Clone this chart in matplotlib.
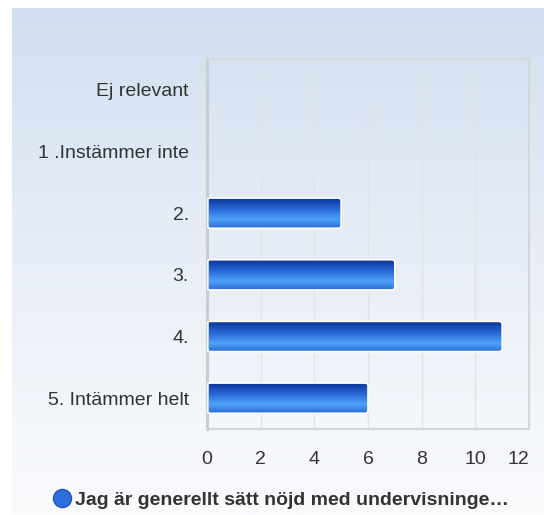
import numpy as np
import matplotlib
matplotlib.use("Agg")
import matplotlib.pyplot as plt
from matplotlib.colors import LinearSegmentedColormap
from matplotlib.patches import FancyBboxPatch
from matplotlib.lines import Line2D

categories = ["Ej relevant", "1 .Instämmer inte", "2.", "3.", "4.", "5. Intämmer helt"]
values = [0, 0, 5, 7, 11, 6]
x_ticks = [0, 2, 4, 6, 8, 10, 12]
series_name = "Jag är generellt sätt nöjd med undervisninge…"

plt.rcParams['font.family'] = ['Liberation Sans', 'DejaVu Sans']
text_color = '#333333'

fig = plt.figure(figsize=(5.44, 5.15), dpi=100)
fig.patch.set_facecolor('white')

# gradient panel behind everything
bg = fig.add_axes([12 / 544, 0, 532 / 544, 507 / 515], zorder=-10)
bg_cmap = LinearSegmentedColormap.from_list('bg', ['#d2dff0', '#e8eef7', '#fafbfd'])
bg.imshow(np.linspace(0, 1, 256).reshape(-1, 1), cmap=bg_cmap, aspect='auto',
          extent=[0, 1, 0, 1], origin='upper')
bg.set_axis_off()

ax = fig.add_axes([207 / 544, 1 - 429 / 515, 322 / 544, 370 / 515])
ax.set_facecolor('none')

y = np.arange(len(categories))
bars = ax.barh(y, values, height=0.49, color='none', edgecolor='none')

bar_cmap = LinearSegmentedColormap.from_list(
    'bar', [(0, '#0b3393'), (0.35, '#2562d2'), (0.72, '#4fa2fa'), (1, '#2b6dd6')])
grad = np.linspace(0, 1, 64).reshape(-1, 1)

for rect in bars:
    w = rect.get_width()
    if w <= 0:
        continue
    x0, y0, h = rect.get_x(), rect.get_y(), rect.get_height()
    patch = FancyBboxPatch((x0, y0), w, h, boxstyle="round,pad=0,rounding_size=0.12",
                           mutation_aspect=0.44, facecolor='none', edgecolor='white',
                           linewidth=1.2, zorder=3)
    ax.add_patch(patch)
    im = ax.imshow(grad, cmap=bar_cmap, aspect='auto', origin='upper',
                   extent=[x0, x0 + w, y0 + h, y0], zorder=2)
    im.set_clip_path(patch)

ax.set_xlim(0, 12)
ax.set_ylim(len(categories) - 0.5, -0.5)
ax.set_aspect('auto')

ax.set_yticks(y)
ax.set_yticklabels(categories, fontsize=14, color=text_color)
ax.set_xticks(x_ticks)
xlabels = ax.set_xticklabels([str(t) for t in x_ticks], fontsize=14, color=text_color)
xlabels[-1].set_horizontalalignment('right')
ax.tick_params(axis='y', length=0, pad=13)
ax.tick_params(axis='x', length=0, pad=16)

ax.grid(axis='x', color='#e3e3e3', linewidth=1)
ax.set_axisbelow(True)
for side in ['top', 'right', 'bottom']:
    ax.spines[side].set_color('#d6d6d6')
    ax.spines[side].set_linewidth(1.5)
ax.spines['left'].set_color('#cccccc')
ax.spines['left'].set_linewidth(2.2)

handle = Line2D([], [], linestyle='none', marker='o', markersize=13,
                markerfacecolor='#2f6fdc', markeredgecolor='#1f55c0')
leg = fig.legend([handle], [series_name], loc='center left',
                 bbox_to_anchor=(43 / 544, 1 - 500 / 515), frameon=False,
                 handletextpad=0.05, handlelength=1.2, borderaxespad=0,
                 prop={'size': 14, 'weight': 'bold'})
for t in leg.get_texts():
    t.set_color(text_color)

fig.savefig("out.png", dpi=100)
